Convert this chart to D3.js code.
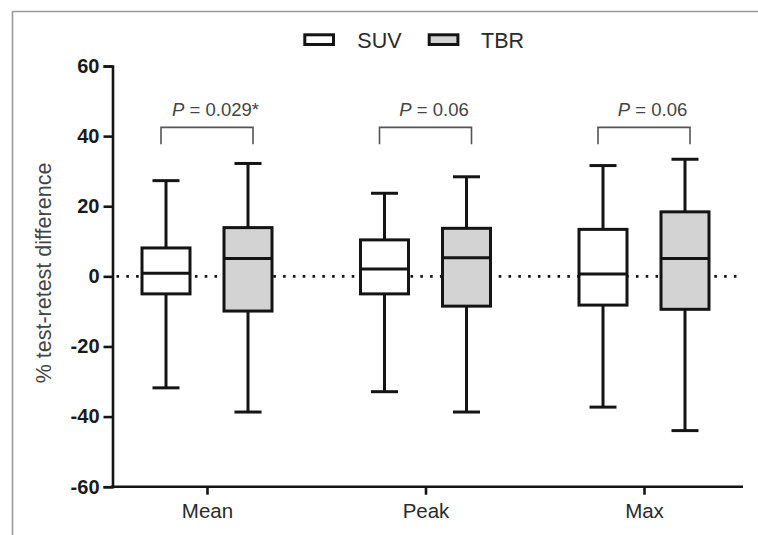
<!DOCTYPE html>
<html>
<head>
<meta charset="utf-8">
<script src="https://cdn.jsdelivr.net/npm/d3@7"></script>
<style>
  html, body { margin: 0; padding: 0; background: #fff; overflow: hidden; width: 758px; height: 535px; }
  svg { display: block; position: absolute; left: 0; top: 0; }
  text { font-family: "Liberation Sans", Arial, sans-serif; }
</style>
</head>
<body>
<svg id="chart" width="758" height="535" viewBox="0 0 758 535"></svg>
<script>
// Categories and series
const categories = ["Mean", "Peak", "Max"];
const series = ["SUV", "TBR"];

// Box summaries per category: [lower whisker, Q1, median, Q3, upper whisker]
const suvStats = [
  [-31.8, -5.0, 0.9, 8.1, 27.3],
  [-32.9, -5.0, 2.1, 10.4, 23.7],
  [-37.3, -8.2, 0.7, 13.4, 31.6]
];
const tbrStats = [
  [-38.7, -9.9, 5.1, 13.9, 32.2],
  [-38.7, -8.5, 5.3, 13.7, 28.4],
  [-44.0, -9.4, 5.1, 18.4, 33.4]
];

// Comparison P values shown above each pair
const pValues = ["0.029*", "0.06", "0.06"];

// Axis ticks
const yTicks = [-60, -40, -20, 0, 20, 40, 60];

const svg = d3.select("#chart");

// Outer frame (only its top and left edges fall inside the view)
svg.append("path")
  .attr("d", "M12.5,535V11.5H758")
  .attr("fill", "none")
  .attr("stroke", "#9a9a9a")
  .attr("stroke-width", 1.6);

const axisLeftX = 112.5;
const axisRightX = 743;

const y = d3.scaleLinear().domain([-60, 60]).range([486.7, 66]);
const x = d3.scalePoint().domain(categories).range([207, 644]);
const sub = d3.scalePoint().domain(series).range([-41, 41]);
const fills = { SUV: "#ffffff", TBR: "#d3d3d3" };
const boxW = 51;
const capW = 27;
const ink = "#141414";

// Zero reference line (dotted)
svg.append("line")
  .attr("x1", axisLeftX + 4).attr("x2", axisRightX)
  .attr("y1", y(0)).attr("y2", y(0))
  .attr("stroke", ink)
  .attr("stroke-width", 2.6)
  .attr("stroke-dasharray", "2.6,7.2");

// Y axis (plain hyphen for negatives)
const yAxis = d3.axisLeft(y).tickValues(yTicks).tickSize(9).tickPadding(4).tickFormat(d => String(d));
const gy = svg.append("g").attr("transform", `translate(${axisLeftX},0)`).call(yAxis);
gy.select(".domain").attr("stroke", ink).attr("stroke-width", 2.6);
gy.selectAll(".tick line").attr("stroke", ink).attr("stroke-width", 2.6);
gy.selectAll(".tick text")
  .attr("font-size", 20).attr("font-weight", "bold").attr("fill", "#1a1a1a")
  .attr("font-family", "'Liberation Sans', Arial, sans-serif");

// X axis
const xAxis = d3.axisBottom(x).tickSize(8).tickPadding(9);
const gx = svg.append("g").attr("transform", `translate(0,${y(-60)})`).call(xAxis);
gx.select(".domain").remove();
gx.append("line")
  .attr("x1", axisLeftX - 1.3).attr("x2", axisRightX)
  .attr("y1", 0).attr("y2", 0)
  .attr("stroke", ink).attr("stroke-width", 2.6);
gx.selectAll(".tick line").attr("stroke", ink).attr("stroke-width", 2.6);
gx.selectAll(".tick text")
  .attr("font-size", 20.5).attr("fill", "#2a2a2a")
  .attr("font-family", "'Liberation Sans', Arial, sans-serif");

// Y axis title
svg.append("text")
  .attr("transform", `translate(51,273) rotate(-90)`)
  .attr("text-anchor", "middle")
  .attr("font-size", 21.5)
  .attr("fill", "#444")
  .text("% test-retest difference");

// Boxes
const statsBySeries = { SUV: suvStats, TBR: tbrStats };
series.forEach(s => {
  const g = svg.append("g").attr("class", "series-" + s);
  const rows = statsBySeries[s].map((st, i) => ({ cat: categories[i], st }));
  const grp = g.selectAll("g").data(rows).join("g")
    .attr("transform", d => `translate(${x(d.cat) + sub(s)},0)`);
  // whiskers
  grp.append("line")
    .attr("x1", 0).attr("x2", 0)
    .attr("y1", d => y(d.st[4])).attr("y2", d => y(d.st[0]))
    .attr("stroke", ink).attr("stroke-width", 3);
  grp.selectAll("line.cap").data(d => [d.st[0], d.st[4]]).join("line")
    .attr("class", "cap")
    .attr("x1", -capW / 2).attr("x2", capW / 2)
    .attr("y1", v => y(v)).attr("y2", v => y(v))
    .attr("stroke", ink).attr("stroke-width", 3);
  // box
  grp.append("rect")
    .attr("x", -boxW / 2 + 1.5).attr("width", boxW - 3)
    .attr("y", d => y(d.st[3])).attr("height", d => y(d.st[1]) - y(d.st[3]))
    .attr("fill", fills[s]).attr("stroke", ink).attr("stroke-width", 3);
  // median
  grp.append("line")
    .attr("x1", -boxW / 2 + 1.5).attr("x2", boxW / 2 - 1.5)
    .attr("y1", d => y(d.st[2])).attr("y2", d => y(d.st[2]))
    .attr("stroke", ink).attr("stroke-width", 3);
});

// Significance brackets
const bracketTop = 42.5, bracketLeg = 37.7, pLabelY = 45.7;
categories.forEach((c, i) => {
  const x1 = x(c) + sub("SUV") - 5;
  const x2 = x(c) + sub("TBR") + 5;
  svg.append("path")
    .attr("d", `M${x1},${y(bracketLeg)}V${y(bracketTop)}H${x2}V${y(bracketLeg)}`)
    .attr("fill", "none").attr("stroke", "#555").attr("stroke-width", 1.6);
  const t = svg.append("text")
    .attr("x", x(c) + 8.5).attr("y", y(pLabelY))
    .attr("text-anchor", "middle")
    .attr("font-size", 18.5).attr("fill", "#444");
  t.append("tspan").attr("font-style", "italic").text("P");
  t.append("tspan").text(" = " + pValues[i]);
});

// Legend
const legendItems = [
  { key: "SUV", sx: 304.8, tx: 357.3 },
  { key: "TBR", sx: 429.2, tx: 481 }
];
const lg = svg.append("g");
legendItems.forEach(it => {
  lg.append("rect")
    .attr("x", it.sx).attr("y", 34.8).attr("width", 28.7).attr("height", 9.7)
    .attr("fill", fills[it.key]).attr("stroke", ink).attr("stroke-width", 3);
  lg.append("text")
    .attr("x", it.tx).attr("y", 48)
    .attr("font-size", 21.5).attr("fill", "#2a2a2a")
    .text(it.key);
});
</script>
</body>
</html>
